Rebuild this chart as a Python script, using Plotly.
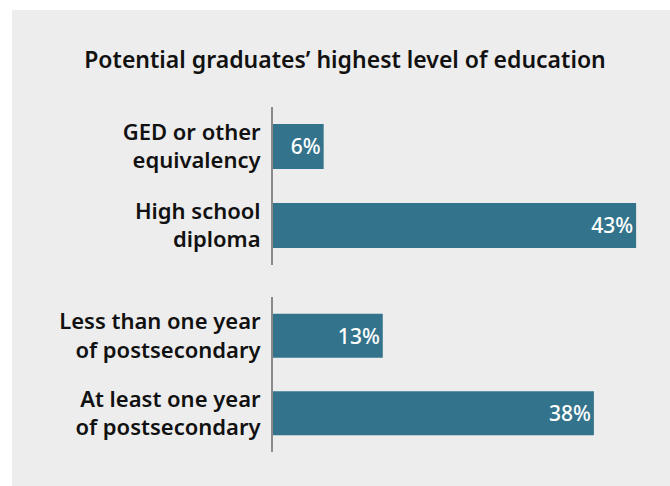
import plotly.graph_objects as go
from plotly.subplots import make_subplots

title = "Potential graduates’ highest level of education"
group1_labels = ["GED or other<br>equivalency", "High school<br>diploma"]
group1_values = [6, 43]
group2_labels = ["Less than one year<br>of postsecondary", "At least one year<br>of postsecondary"]
group2_values = [13, 38]

BAR = "#33748C"
BG = "#EDEDED"
FONT = "Noto Sans"

fig = make_subplots(rows=2, cols=1, shared_xaxes=False)

for row, (labs, vals) in enumerate([(group1_labels, group1_values), (group2_labels, group2_values)], start=1):
    fig.add_trace(go.Bar(
        y=labs, x=vals, orientation="h",
        marker=dict(color=BAR, line=dict(width=0)),
        texttemplate="%{x}%", textposition="inside", insidetextanchor="end",
        textfont=dict(color="white", size=21, family=FONT, weight=500),
        cliponaxis=False, hoverinfo="skip",
    ), row=row, col=1)

# plot area: x 273..653, y 107..452
W, H = 670, 486
L, R, T, B = 273, 17, 107, 34
pw, ph = W - L - R, H - T - B

def py(pix):
    return (H - B - pix) / ph

def px(pix):
    return (pix - L) / pw

fig.update_layout(
    width=W, height=H,
    margin=dict(l=L, r=R, t=T, b=B),
    paper_bgcolor="white", plot_bgcolor=BG,
    showlegend=False,
    bargap=0.43,
    font=dict(family=FONT, color="#111111"),
    title=dict(text=title, x=px(345), xref="paper", xanchor="center",
               y=1 - 60 / H, yanchor="middle",
               font=dict(size=23, family=FONT, color="#111111", weight=600)),
    shapes=[dict(type="rect", xref="paper", yref="paper", layer="below",
                 x0=px(12), x1=px(671), y0=py(10), y1=py(487),
                 fillcolor=BG, line=dict(width=0))],
    xaxis=dict(domain=[0, 1], range=[0, 45], visible=False),
    xaxis2=dict(domain=[0, 1], range=[0, 45], visible=False),
    yaxis=dict(domain=[py(265), 1.0]),
    yaxis2=dict(domain=[0.0, py(297)]),
)
for ax in ["yaxis", "yaxis2"]:
    fig.layout[ax].update(
        autorange="reversed", showline=True, linecolor="#8A8A8A", linewidth=2,
        showgrid=False, zeroline=False, ticks="", ticklabelstandoff=6,
        tickfont=dict(size=22, family=FONT, color="#111111", weight=600),
    )

fig.write_html("out.html", config={"displayModeBar": False},
               post_script="document.body.style.margin='0';")
